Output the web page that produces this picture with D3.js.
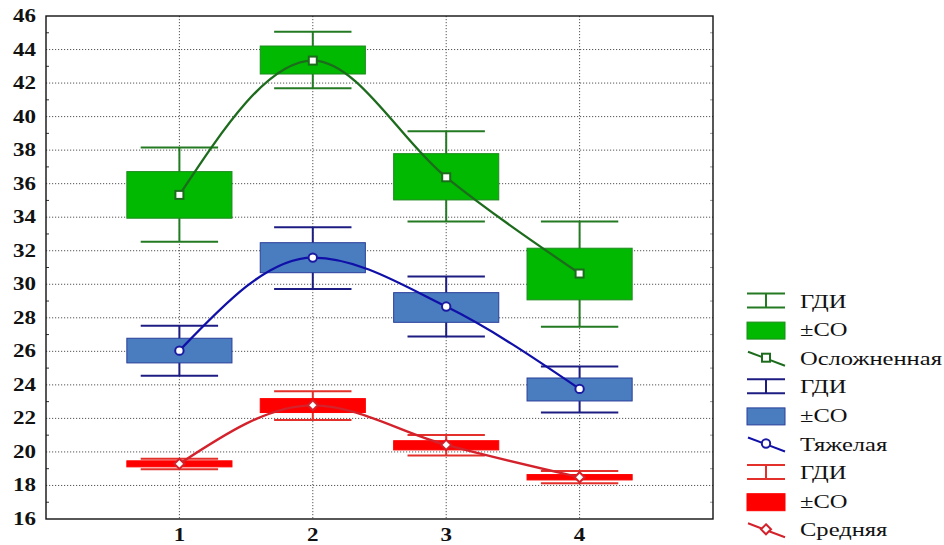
<!DOCTYPE html>
<html>
<head>
<meta charset="utf-8">
<script src="https://cdn.jsdelivr.net/npm/d3@7"></script>
<style>
  html, body { margin: 0; padding: 0; background: #fff; }
  svg { display: block; }
</style>
</head>
<body>
<svg id="chart" width="944" height="545"></svg>
<script>
// ---- data ----
const categories = [1, 2, 3, 4];
const yTicks = [16, 18, 20, 22, 24, 26, 28, 30, 32, 34, 36, 38, 40, 42, 44, 46];
const yMinorTicks = [17, 19, 21, 23, 25, 27, 29, 31, 33, 35, 37, 39, 41, 43, 45];

// Осложненная
const complMean = [35.33, 43.34, 36.38, 30.64];
const complSdLo = [33.94, 42.54, 35.03, 29.07];
const complSdHi = [36.72, 44.21, 37.79, 32.15];
const complCiLo = [32.54, 41.69, 33.74, 27.47];
const complCiHi = [38.15, 45.06, 39.12, 33.74];

// Тяжелая
const severeMean = [26.04, 31.59, 28.67, 23.76];
const severeSdLo = [25.31, 30.69, 27.73, 23.04];
const severeSdHi = [26.78, 32.48, 29.50, 24.41];
const severeCiLo = [24.55, 29.72, 26.88, 22.35];
const severeCiHi = [27.53, 33.40, 30.46, 25.09];

// Средняя
const mediumMean = [19.29, 22.78, 20.42, 18.49];
const mediumSdLo = [19.11, 22.35, 20.12, 18.33];
const mediumSdHi = [19.47, 23.18, 20.67, 18.65];
const mediumCiLo = [18.97, 21.91, 19.78, 18.13];
const mediumCiHi = [19.60, 23.62, 21.01, 18.87];

const seriesNames = ["Осложненная", "Тяжелая", "Средняя"];
const ciLabel = "ГДИ";
const sdLabel = "±СО";

// ---- styles ----
const FONT = "'Liberation Serif', 'Times New Roman', serif";
const styles = [
  { box: "#00b900", boxStroke: "#1f8a1f", whisk: "#237a23", line: "#1d6b1d", marker: "square", mk: "#1d6b1d" },
  { box: "#4a7cc0", boxStroke: "#2a3f9a", whisk: "#1c1c82", line: "#1010a8", marker: "circle", mk: "#1a1aa0" },
  { box: "#ff0000", boxStroke: "#ff0000", whisk: "#e3302b", line: "#d3222b", marker: "diamond", mk: "#d3222b" }
];

const series = [
  { name: seriesNames[0], mean: complMean, sdLo: complSdLo, sdHi: complSdHi, ciLo: complCiLo, ciHi: complCiHi, st: styles[0] },
  { name: seriesNames[1], mean: severeMean, sdLo: severeSdLo, sdHi: severeSdHi, ciLo: severeCiLo, ciHi: severeCiHi, st: styles[1] },
  { name: seriesNames[2], mean: mediumMean, sdLo: mediumSdLo, sdHi: mediumSdHi, ciLo: mediumCiLo, ciHi: mediumCiHi, st: styles[2] }
];

const svg = d3.select("#chart");
const L = 46, R = 713, T = 16, B = 519;
const x = d3.scaleLinear().domain([0, 5]).range([L, R]);
const y = d3.scaleLinear().domain([16, 46]).range([B, T]);
const boxHalf = 0.394, capHalf = 0.29;

// measure helper
function measure(txt, size, weight) {
  const t = svg.append("text").style("font-family", FONT).attr("font-size", size)
    .attr("font-weight", weight).text(txt);
  const w = t.node().getComputedTextLength();
  t.remove();
  return w;
}
const tickSize = 18;
const SX = Math.max(1, 23 / measure("46", tickSize, "bold"));
const legSize = 18;
const LSX = Math.max(1, 142 / measure("Осложненная", legSize, "normal"));

// grid
const grid = svg.append("g");
grid.selectAll("line.h").data(yTicks.filter(v => v > 16 && v < 46)).join("line")
  .attr("x1", L).attr("x2", R).attr("y1", d => y(d)).attr("y2", d => y(d))
  .attr("stroke", "#555").attr("stroke-width", 1).attr("stroke-dasharray", "1.2,1.8");
grid.selectAll("line.v").data(categories).join("line")
  .attr("x1", d => x(d)).attr("x2", d => x(d)).attr("y1", T).attr("y2", B)
  .attr("stroke", "#555").attr("stroke-width", 1).attr("stroke-dasharray", "1.2,1.8");

// minor ticks
svg.append("g").selectAll("line").data(yMinorTicks).join("line")
  .attr("x1", L).attr("x2", L + 3).attr("y1", d => y(d)).attr("y2", d => y(d))
  .attr("stroke", "#333").attr("stroke-width", 1);
svg.append("g").selectAll("line").data(yMinorTicks).join("line")
  .attr("x1", R - 3).attr("x2", R).attr("y1", d => y(d)).attr("y2", d => y(d))
  .attr("stroke", "#999").attr("stroke-width", 1);

// series
const line = d3.line().x((d, i) => x(categories[i])).y(d => y(d)).curve(d3.curveMonotoneX);

series.forEach(s => {
  const g = svg.append("g");
  const st = s.st;
  categories.forEach((c, i) => {
    g.append("line").attr("x1", x(c)).attr("x2", x(c)).attr("y1", y(s.ciLo[i])).attr("y2", y(s.ciHi[i]))
      .attr("stroke", st.whisk).attr("stroke-width", 2);
    [s.ciLo[i], s.ciHi[i]].forEach(v => {
      g.append("line").attr("x1", x(c - capHalf)).attr("x2", x(c + capHalf)).attr("y1", y(v)).attr("y2", y(v))
        .attr("stroke", st.whisk).attr("stroke-width", 2);
    });
    g.append("rect").attr("x", x(c - boxHalf)).attr("width", x(c + boxHalf) - x(c - boxHalf))
      .attr("y", y(s.sdHi[i])).attr("height", y(s.sdLo[i]) - y(s.sdHi[i]))
      .attr("fill", st.box).attr("stroke", st.boxStroke).attr("stroke-width", 1);
  });
  g.append("path").datum(s.mean).attr("d", line).attr("fill", "none")
    .attr("stroke", st.line).attr("stroke-width", 2.3);
  categories.forEach((c, i) => {
    drawMarker(g, st.marker, x(c), y(s.mean[i]), st.mk);
  });
});

function drawMarker(g, type, cx, cy, color) {
  if (type === "square") {
    g.append("rect").attr("x", cx - 4).attr("y", cy - 4).attr("width", 8).attr("height", 8)
      .attr("fill", "#fff").attr("stroke", color).attr("stroke-width", 2);
  } else if (type === "circle") {
    g.append("circle").attr("cx", cx).attr("cy", cy).attr("r", 4.2)
      .attr("fill", "#fff").attr("stroke", color).attr("stroke-width", 2);
  } else {
    g.append("path").attr("d", `M${cx},${cy - 5}L${cx + 5},${cy}L${cx},${cy + 5}L${cx - 5},${cy}Z`)
      .attr("fill", "#fff").attr("stroke", color).attr("stroke-width", 2);
  }
}

// frame
svg.append("rect").attr("x", L).attr("y", T).attr("width", R - L).attr("height", B - T)
  .attr("fill", "none").attr("stroke", "#111").attr("stroke-width", 1.4);

// y labels
svg.append("g").selectAll("text").data(yTicks).join("text")
  .attr("transform", d => `translate(36,${y(d) + 6}) scale(${SX},1)`)
  .attr("text-anchor", "end")
  .style("font-family", FONT)
  .attr("font-weight", "bold").attr("font-size", tickSize).attr("fill", "#111")
  .text(d => d);

// x labels
svg.append("g").selectAll("text").data(categories).join("text")
  .attr("transform", d => `translate(${x(d)},541) scale(${SX},1)`)
  .attr("text-anchor", "middle")
  .style("font-family", FONT)
  .attr("font-weight", "bold").attr("font-size", tickSize).attr("fill", "#111")
  .text(d => d);

// legend
const leg = svg.append("g");
const legX0 = 747, legX1 = 785, legTx = 800;
const rowGap = 28.6;
let row = 0;
const y0 = 301.5;
series.forEach(s => {
  const st = s.st;
  let cy = y0 + row * rowGap;
  leg.append("line").attr("x1", legX0).attr("x2", legX1).attr("y1", cy - 8).attr("y2", cy - 8).attr("stroke", st.whisk).attr("stroke-width", 2);
  leg.append("line").attr("x1", legX0).attr("x2", legX1).attr("y1", cy + 6).attr("y2", cy + 6).attr("stroke", st.whisk).attr("stroke-width", 2);
  leg.append("line").attr("x1", (legX0 + legX1) / 2).attr("x2", (legX0 + legX1) / 2).attr("y1", cy - 8).attr("y2", cy + 6).attr("stroke", st.whisk).attr("stroke-width", 2);
  legText(legTx, cy, ciLabel);
  row++;
  cy = y0 + row * rowGap;
  leg.append("rect").attr("x", legX0).attr("y", cy - 8).attr("width", legX1 - legX0).attr("height", 17)
    .attr("fill", st.box).attr("stroke", st.boxStroke).attr("stroke-width", 1);
  legText(legTx, cy, sdLabel);
  row++;
  cy = y0 + row * rowGap;
  leg.append("line").attr("x1", legX0 + 1).attr("x2", legX1).attr("y1", cy - 7).attr("y2", cy + 7).attr("stroke", st.line).attr("stroke-width", 2);
  drawMarker(leg, st.marker, (legX0 + legX1) / 2, cy - 1, st.mk);
  legText(legTx, cy, s.name);
  row++;
});

function legText(tx, cy, t) {
  leg.append("text").attr("transform", `translate(${tx},${cy + 6}) scale(${LSX},1)`)
    .style("font-family", FONT)
    .attr("font-size", legSize).attr("fill", "#111").text(t);
}
</script>
</body>
</html>
